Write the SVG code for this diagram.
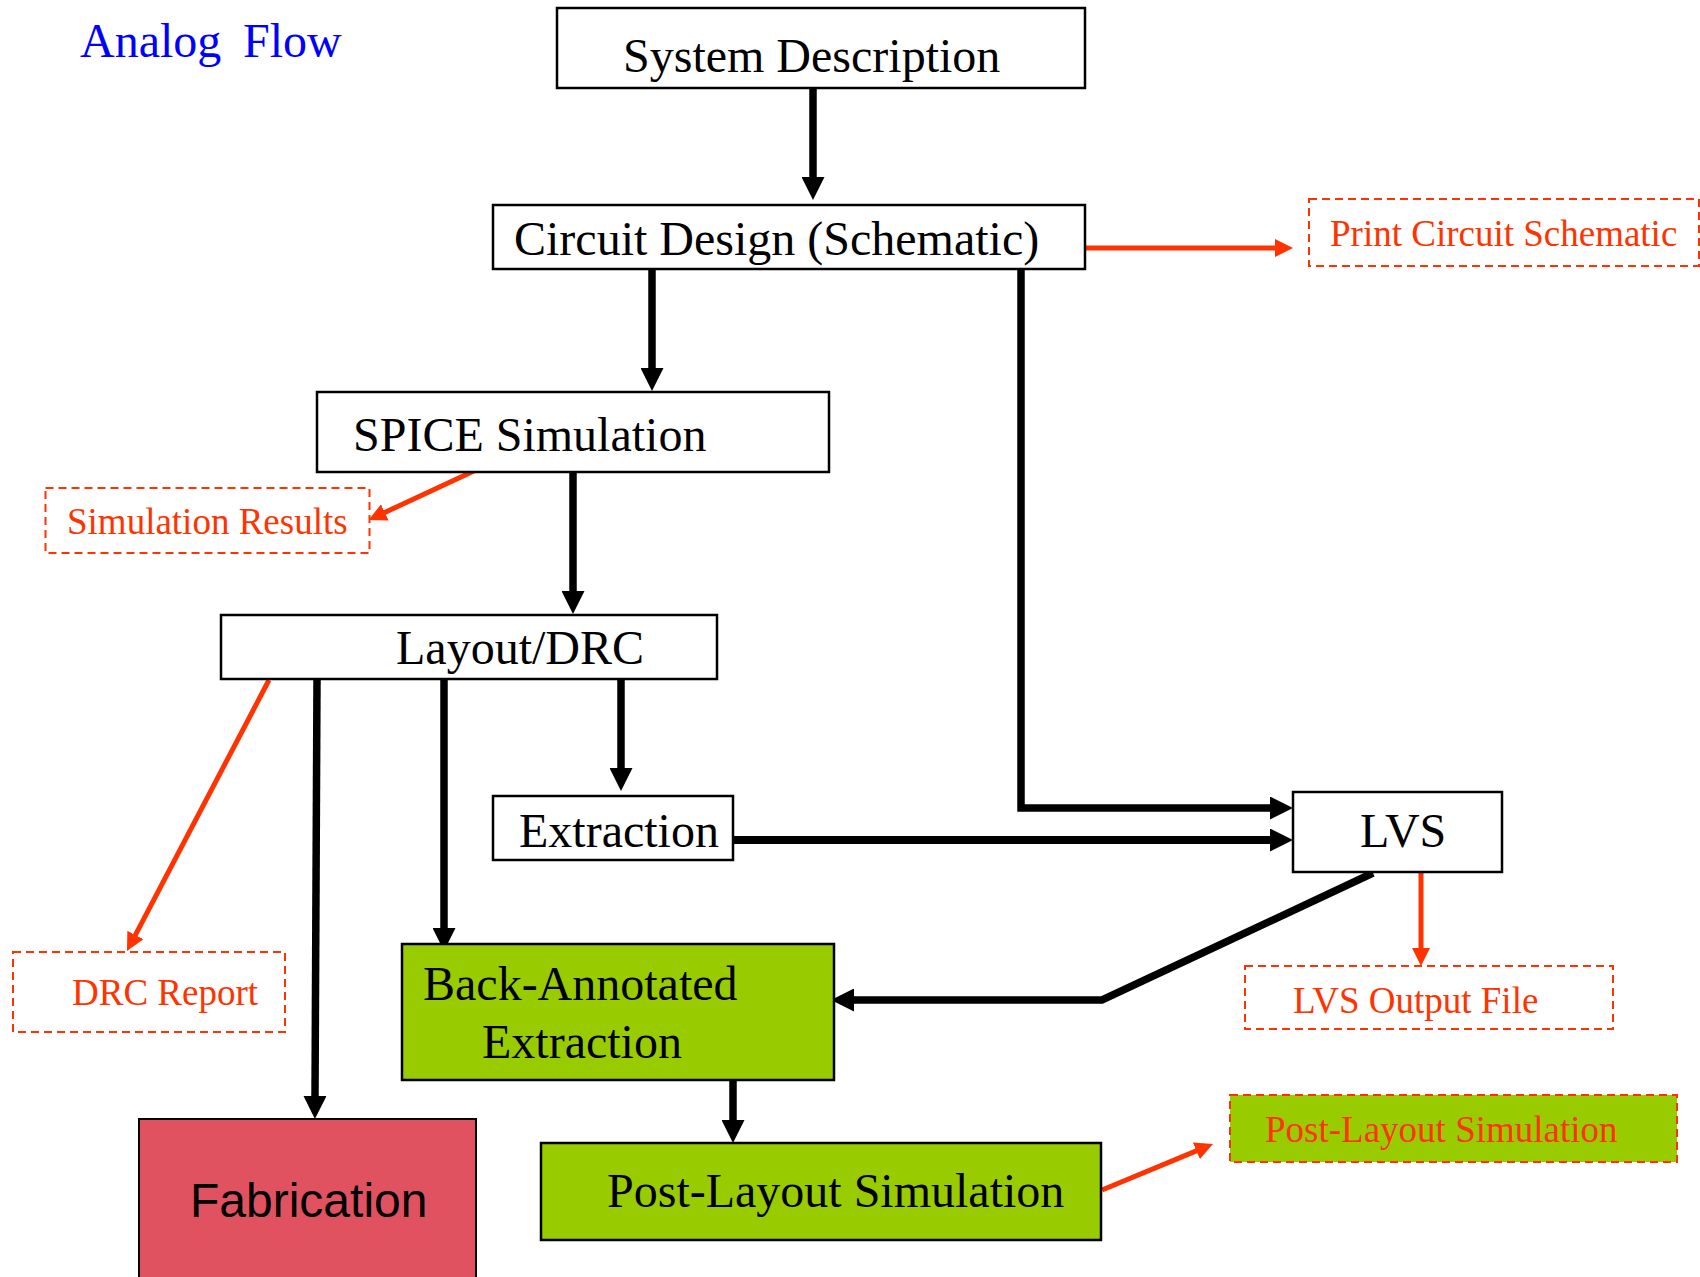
<svg xmlns="http://www.w3.org/2000/svg" width="1700" height="1277" viewBox="0 0 1700 1277">
<defs>
<style>
.box{fill:#ffffff;stroke:#000000;stroke-width:2.5}
.green{fill:#99cc00;stroke:#000000;stroke-width:2.5}
.fab{fill:#e15260;stroke:#000000;stroke-width:2}
.dash{fill:#ffffff;stroke:#ff3300;stroke-width:2;stroke-dasharray:8 5}
.dashg{fill:#99cc00;stroke:#ff3300;stroke-width:2;stroke-dasharray:8 5}
.t{font-family:"Liberation Serif","Times New Roman",serif;font-size:48px;fill:#000000}
.r{font-family:"Liberation Serif","Times New Roman",serif;font-size:37px;fill:#ff3300}
.s{font-family:"Liberation Sans",Arial,sans-serif;font-size:48px;fill:#000000}
.title{font-family:"Liberation Serif","Times New Roman",serif;font-size:48px;fill:#0000ff}
.cb{fill:none;stroke:#000000;stroke-width:7.5;marker-end:url(#ab)}
.cr{fill:none;stroke:#ff3300;stroke-width:5;marker-end:url(#ar)}
</style>
<marker id="ab" viewBox="0 0 23 23" markerWidth="23" markerHeight="23" refX="2" refY="11.5" orient="auto" markerUnits="userSpaceOnUse">
<path d="M0,0 L23,11.5 L0,23 z" fill="#000000"/>
</marker>
<marker id="ar" viewBox="0 0 18 18" markerWidth="18" markerHeight="18" refX="2" refY="9" orient="auto" markerUnits="userSpaceOnUse">
<path d="M0,0 L18,9 L0,18 z" fill="#ff3300"/>
</marker>
</defs>
<rect width="1700" height="1277" fill="#ffffff"/>

<g id="title">
<text class="title" x="80" y="57">Analog</text>
<text class="title" x="243" y="57">Flow</text>
</g>

<g id="connectors">
<path class="cb" d="M813,88 L813,179"/>
<path class="cb" d="M652,269 L652,370"/>
<path class="cb" d="M1021,269 L1021,808 L1272,808"/>
<path class="cb" d="M573,472 L573,593"/>
<path class="cb" d="M621,679 L621,770"/>
<path class="cb" d="M444,679 L444,930"/>
<path class="cb" d="M317,679 L315,1098"/>
<path class="cb" d="M733,840 L1272,840" style="stroke-width:8"/>
<path class="cb" d="M1373,873 L1102,1000 L852,1000"/>
<path class="cb" d="M733,1080 L733,1122"/>
<path class="cr" d="M1085,248 L1277,248"/>
<path class="cr" d="M476,470 L383,513.3"/>
<path class="cr" d="M269,680 L134.4,936.8"/>
<path class="cr" d="M1421,873 L1421,950"/>
<path class="cr" d="M1102,1190 L1198.2,1150.1"/>
</g>

<g id="system-description">
<rect class="box" x="557" y="8" width="528" height="80"/>
<text class="t" x="623" y="72">System Description</text>
</g>
<g id="circuit-design">
<rect class="box" x="493" y="205" width="592" height="64"/>
<text class="t" x="514" y="255">Circuit Design (Schematic)</text>
</g>
<g id="print-circuit-schematic">
<rect class="dash" x="1309" y="199" width="390" height="67"/>
<text class="r" x="1330" y="246">Print Circuit Schematic</text>
</g>
<g id="spice-simulation">
<rect class="box" x="317" y="392" width="512" height="80"/>
<text class="t" x="353" y="451">SPICE Simulation</text>
</g>
<g id="simulation-results">
<rect class="dash" x="45.5" y="488" width="324" height="65"/>
<text class="r" x="67" y="534">Simulation Results</text>
</g>
<g id="layout-drc">
<rect class="box" x="221" y="615" width="496" height="64"/>
<text class="t" x="396" y="664">Layout/DRC</text>
</g>
<g id="extraction">
<rect class="box" x="493" y="796" width="240" height="64"/>
<text class="t" x="519" y="847">Extraction</text>
</g>
<g id="lvs">
<rect class="box" x="1293" y="792" width="209" height="80"/>
<text class="t" x="1360" y="847">LVS</text>
</g>
<g id="lvs-output-file">
<rect class="dash" x="1245" y="966" width="368" height="63"/>
<text class="r" x="1293" y="1013">LVS Output File</text>
</g>
<g id="drc-report">
<rect class="dash" x="13" y="952" width="272" height="80"/>
<text class="r" x="72" y="1005">DRC Report</text>
</g>
<g id="back-annotated-extraction">
<rect class="green" x="402" y="944" width="432" height="136"/>
<text class="t" x="423" y="1000">Back-Annotated</text>
<text class="t" x="482" y="1058">Extraction</text>
</g>
<g id="fabrication">
<rect class="fab" x="139" y="1119" width="337" height="170"/>
<text class="s" x="190" y="1217">Fabrication</text>
</g>
<g id="post-layout-simulation">
<rect class="green" x="541" y="1143" width="560" height="97"/>
<text class="t" x="607" y="1207">Post-Layout Simulation</text>
</g>
<g id="post-layout-simulation-output">
<rect class="dashg" x="1230" y="1095" width="447" height="67"/>
<text class="r" x="1265" y="1142">Post-Layout Simulation</text>
</g>
</svg>
